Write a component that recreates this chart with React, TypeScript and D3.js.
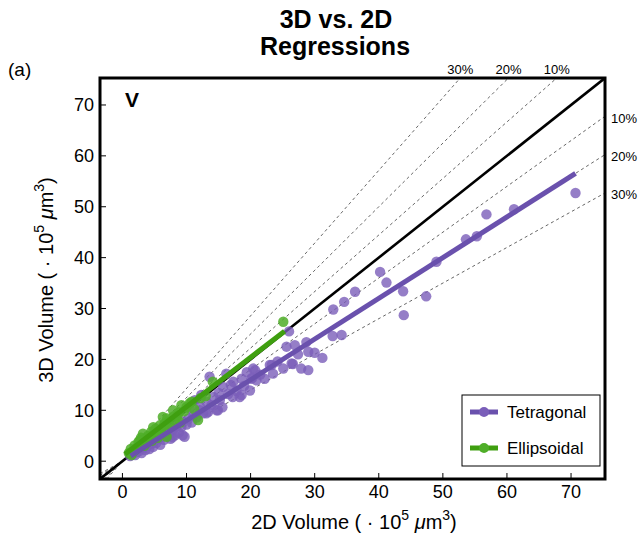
import React from 'react';
import * as d3 from 'd3';

// tick values
const xTicks = [0, 10, 20, 30, 40, 50, 60, 70];
const yTicks = [0, 10, 20, 30, 40, 50, 60, 70];

// error bands (fraction off the 1:1 line)
const bands = [0.1, 0.2, 0.3];

// 2D vs 3D volume, tetragonal cells
const tetraX = [1.2, 1.6, 2.0, 2.2, 2.6, 3.0, 3.2, 3.6, 3.9, 4.2, 4.5, 4.8, 5.0, 5.3, 5.6, 5.9, 6.1, 6.2, 6.5, 6.9, 7.2, 7.5, 7.8, 7.8, 8.2, 8.4, 8.8, 9.2, 9.4, 9.4, 9.7, 10.0, 10.3, 10.5, 10.8, 11.1, 11.3, 11.6, 12.1, 12.1, 12.3, 12.6, 13.1, 13.1, 13.4, 13.6, 13.9, 14.2, 14.7, 14.9, 15.0, 15.2, 15.6, 15.7, 16.2, 16.5, 16.9, 17.2, 17.3, 17.8, 18.3, 18.6, 18.6, 19.0, 19.4, 19.9, 20.1, 20.3, 20.4, 20.7, 20.9, 21.5, 22.2, 23.0, 23.3, 23.5, 24.2, 25.1, 25.6, 26.0, 26.4, 26.6, 26.9, 27.4, 27.9, 28.7, 29.0, 29.0, 30.0, 31.2, 32.8, 32.9, 34.2, 34.6, 36.3, 40.2, 41.2, 43.8, 43.9, 47.4, 49.0, 53.6, 55.3, 56.8, 61.1, 70.7];
const tetraY = [1.0, 1.4, 1.2, 1.8, 2.0, 1.6, 2.6, 2.2, 3.0, 2.4, 3.4, 2.8, 4.0, 3.6, 4.4, 3.2, 5.8, 4.8, 4.2, 6.1, 5.0, 4.4, 6.0, 4.7, 5.1, 6.8, 5.6, 6.7, 7.8, 5.1, 4.8, 7.2, 8.4, 10.4, 7.6, 9.0, 12.0, 8.6, 10.7, 10.0, 13.0, 9.4, 11.7, 9.4, 9.7, 16.6, 11.0, 12.6, 10.0, 10.0, 13.4, 12.0, 10.6, 14.6, 17.2, 13.2, 15.0, 12.6, 15.6, 13.8, 12.6, 16.2, 13.0, 14.8, 17.5, 13.9, 16.2, 16.4, 18.2, 17.9, 15.9, 17.0, 16.2, 18.9, 18.9, 17.2, 19.6, 18.2, 22.5, 25.5, 19.2, 19.1, 22.8, 21.0, 18.2, 23.4, 21.5, 17.9, 21.3, 20.3, 24.6, 29.8, 24.8, 31.3, 33.3, 37.2, 35.1, 33.4, 28.7, 32.4, 39.2, 43.6, 44.2, 48.5, 49.5, 52.7];

// ellipsoidal cells
const ellipX = [1.0, 1.3, 1.6, 1.9, 2.2, 2.5, 2.7, 3.0, 3.2, 3.5, 3.8, 4.0, 4.3, 4.5, 4.8, 5.0, 5.3, 5.5, 5.8, 6.0, 6.3, 6.6, 6.9, 7.2, 7.5, 7.9, 8.2, 8.6, 9.0, 9.2, 9.6, 10.0, 10.5, 10.8, 11.2, 11.8, 12.2, 13.0, 14.1, 25.1, 1.4, 2.0, 2.9, 3.4, 4.1, 4.6, 5.2, 5.9, 6.5, 7.0, 8.0, 8.8];
const ellipY = [1.6, 2.4, 1.9, 3.1, 2.6, 3.8, 4.1, 3.2, 5.4, 4.4, 3.6, 5.0, 4.2, 5.8, 6.7, 5.2, 6.0, 4.6, 7.0, 6.2, 8.7, 7.4, 4.8, 7.8, 6.8, 10.0, 8.2, 9.0, 7.6, 11.0, 9.8, 10.6, 11.4, 11.7, 10.2, 8.1, 12.4, 12.8, 15.6, 27.4, 1.2, 2.2, 4.6, 3.0, 4.8, 4.0, 6.4, 5.4, 7.0, 8.4, 8.8, 9.6];

// linear fits (slope, intercept, x span)
const tetraFit = [0.8, 0.0, 1.3, 70.7];
const ellipFit = [0.97, 1.0, 0.4, 25.3];

const legendNames = ['Tetragonal', 'Ellipsoidal'];

const PURPLE = '#6a51ad';
const PURPLE_PT = '#7a5eb9';
const GREEN = '#3f9f10';
const GREEN_PT = '#4fae28';

const left = 100, right = 605, top = 78, bottom = 479;
const font = 'Liberation Sans, Arial, Helvetica, sans-serif';

const AxisTitle = ({ name }: { name: string }) => (
  <>
    {name} ( · 10<tspan dy={-9} fontSize={14}>5</tspan>
    <tspan dy={9}> </tspan><tspan fontStyle="italic">μ</tspan>m<tspan dy={-9} fontSize={14}>3</tspan><tspan dy={9}>)</tspan>
  </>
);

export default function App() {
  const x = d3.scaleLinear().domain([-3.5, 75.3]).range([left, right]);
  const y = d3.scaleLinear().domain([-3.5, 75.3]).range([bottom, top]);
  const line = d3.line<number[]>().x(d => x(d[0])).y(d => y(d[1]));
  const [lo, hi] = x.domain();

  const fitLine = (f: number[]) => line([[f[2], f[0] * f[2] + f[1]], [f[3], f[0] * f[3] + f[1]]]);

  const tetra = tetraX.map((v, i) => [v, tetraY[i]]);
  const ellip = ellipX.map((v, i) => [v, ellipY[i]]);

  return (
    <svg width={643} height={538} style={{ position: 'absolute', left: 0, top: 0 }} fontFamily={font}>
      <defs>
        <clipPath id="plot"><rect x={left} y={top} width={right - left} height={bottom - top} /></clipPath>
      </defs>
      <text x={336} y={28} textAnchor="middle" fontSize={25} fontWeight="bold">3D vs. 2D</text>
      <text x={335} y={55} textAnchor="middle" fontSize={25} fontWeight="bold">Regressions</text>
      <text x={8} y={76} fontSize={19}>(a)</text>

      <g clipPath="url(#plot)">
        {bands.map(p => (
          <g key={p} stroke="#555" strokeWidth={0.9} strokeDasharray="3,3" fill="none">
            <path d={line([[lo * (1 - p), lo], [hi * (1 - p), hi]]) ?? ''} />
            <path d={line([[lo, lo * (1 - p)], [hi, hi * (1 - p)]]) ?? ''} />
          </g>
        ))}
        <path d={line([[lo, lo], [hi, hi]]) ?? ''} stroke="#000" strokeWidth={2.6} fill="none" />
        {tetra.map((d, i) => (
          <circle key={'t' + i} cx={x(d[0])} cy={y(d[1])} r={5.2} fill={PURPLE_PT} fillOpacity={0.8} />
        ))}
        {ellip.map((d, i) => (
          <circle key={'e' + i} cx={x(d[0])} cy={y(d[1])} r={5.2} fill={GREEN_PT} fillOpacity={0.85} />
        ))}
        <path d={fitLine(tetraFit) ?? ''} stroke={PURPLE} strokeWidth={5} fill="none" />
        <path d={fitLine(ellipFit) ?? ''} stroke={GREEN} strokeWidth={5} fill="none" />
      </g>

      {bands.map(p => (
        <g key={'l' + p} fontSize={13}>
          <text x={x(hi * (1 - p))} y={74} textAnchor="middle">{Math.round(p * 100)}%</text>
          <text x={611} y={y(hi * (1 - p)) + 6.5}>{Math.round(p * 100)}%</text>
        </g>
      ))}

      <text x={125} y={107} fontSize={21} fontWeight="bold">V</text>

      {xTicks.map(t => (
        <g key={'x' + t}>
          <line x1={x(t)} x2={x(t)} y1={bottom} y2={bottom - 6} stroke="#000" strokeWidth={1} />
          <text x={x(t)} y={498} textAnchor="middle" fontSize={18}>{t}</text>
        </g>
      ))}
      {yTicks.map(t => (
        <g key={'y' + t}>
          <line x1={left} x2={left + 6} y1={y(t)} y2={y(t)} stroke="#000" strokeWidth={1} />
          <text x={94} y={y(t) + 6.5} textAnchor="end" fontSize={18}>{t}</text>
        </g>
      ))}

      <rect x={left} y={top} width={right - left} height={bottom - top} fill="none" stroke="#000" strokeWidth={3} />

      <g transform="translate(462,395)">
        <rect width={138} height={71} fill="#fff" stroke="#000" strokeWidth={1} />
        {legendNames.map((n, i) => (
          <g key={n} transform={`translate(0,${17 + i * 36})`}>
            <line x1={8} x2={36} stroke={i ? GREEN : PURPLE} strokeWidth={5} />
            <circle cx={22} r={5} fill={i ? GREEN_PT : PURPLE_PT} />
            <text x={45} y={6} fontSize={17}>{n}</text>
          </g>
        ))}
      </g>

      <text x={354} y={529} textAnchor="middle" fontSize={20}>
        <AxisTitle name="2D Volume" />
      </text>
      <text transform="translate(53,280) rotate(-90)" textAnchor="middle" fontSize={20}>
        <AxisTitle name="3D Volume" />
      </text>
    </svg>
  );
}
